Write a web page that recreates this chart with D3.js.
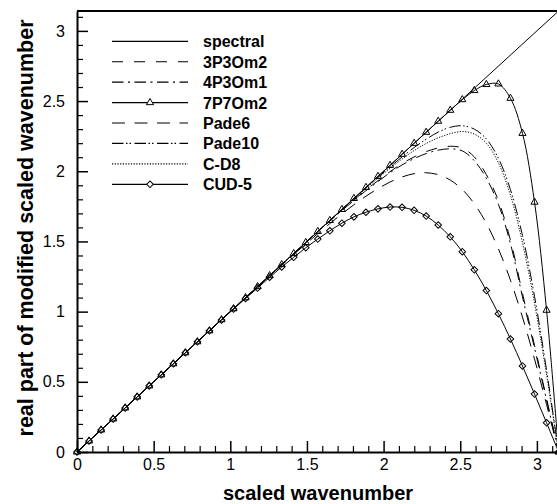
<!DOCTYPE html>
<html>
<head>
<meta charset="utf-8">
<script src="https://cdn.jsdelivr.net/npm/d3@7"></script>
<style>
  body { margin: 0; background: #fff; }
  svg { display: block; font-family: "Liberation Sans", Arial, Helvetica, sans-serif; }
</style>
</head>
<body>
<div id="chart"></div>
<script>
// sample positions (scaled wavenumber), every pi/40
const xs = [0, 0.0785, 0.1571, 0.2356, 0.3142, 0.3927, 0.4712, 0.5498, 0.6283, 0.7069,
  0.7854, 0.8639, 0.9425, 1.0210, 1.0996, 1.1781, 1.2566, 1.3352, 1.4137, 1.4923,
  1.5708, 1.6493, 1.7279, 1.8064, 1.8850, 1.9635, 2.0420, 2.1206, 2.1991, 2.2777,
  2.3562, 2.4347, 2.5133, 2.5918, 2.6704, 2.7489, 2.8274, 2.9060, 2.9845, 3.0631, 3.1416];

const spectralX = [0, 3.1416];
const spectralY = [0, 3.1416];

const p3p3om2 = [0, 0.0785, 0.1571, 0.2356, 0.3142, 0.3927, 0.4712, 0.5498, 0.6283, 0.7069,
  0.7854, 0.8639, 0.9425, 1.0210, 1.0996, 1.1781, 1.2566, 1.3352, 1.4137, 1.4922,
  1.5705, 1.648, 1.723, 1.796, 1.867, 1.933, 1.997, 2.055, 2.102, 2.140,
  2.166, 2.178, 2.166, 2.102, 1.976, 1.790, 1.510, 1.130, 0.760, 0.380, 0];

const p4p3om1 = [0, 0.0785, 0.1571, 0.2356, 0.3142, 0.3927, 0.4712, 0.5498, 0.6283, 0.7069,
  0.7854, 0.8639, 0.9425, 1.0210, 1.0996, 1.1781, 1.2566, 1.3352, 1.4137, 1.4922,
  1.5700, 1.645, 1.720, 1.792, 1.862, 1.927, 1.990, 2.045, 2.090, 2.126,
  2.150, 2.160, 2.145, 2.075, 1.950, 1.765, 1.485, 1.105, 0.740, 0.370, 0];

const p7p7om2 = [0, 0.0785, 0.1571, 0.2356, 0.3142, 0.3927, 0.4712, 0.5498, 0.6283, 0.7069,
  0.7854, 0.8639, 0.9425, 1.0210, 1.0996, 1.1781, 1.2566, 1.3352, 1.4137, 1.4923,
  1.5708, 1.6493, 1.7279, 1.8064, 1.8850, 1.9635, 2.0420, 2.1206, 2.1991, 2.2777,
  2.3562, 2.4345, 2.510, 2.575, 2.618, 2.622, 2.520, 2.270, 1.780, 1.010, 0];

const pade6 = [0, 0.0785, 0.1571, 0.2356, 0.3142, 0.3927, 0.4712, 0.5498, 0.6283, 0.7069,
  0.7854, 0.8638, 0.9421, 1.0195, 1.0984, 1.1760, 1.2539, 1.3308, 1.4069, 1.4820,
  1.5556, 1.6272, 1.6961, 1.7616, 1.8222, 1.8766, 1.9233, 1.9592, 1.9827, 1.9891,
  1.9758, 1.9373, 1.8702, 1.7685, 1.6288, 1.4476, 1.2244, 0.9608, 0.662, 0.338, 0];

const pade10 = [0, 0.0785, 0.1571, 0.2356, 0.3142, 0.3927, 0.4712, 0.5498, 0.6283, 0.7069,
  0.7854, 0.8639, 0.9425, 1.0210, 1.0996, 1.1781, 1.2566, 1.3352, 1.4137, 1.4923,
  1.5704, 1.649, 1.727, 1.804, 1.881, 1.957, 2.031, 2.102, 2.169, 2.228,
  2.279, 2.313, 2.324, 2.300, 2.230, 2.092, 1.869, 1.543, 1.109, 0.582, 0];

const cd8 = [0, 0.0785, 0.1571, 0.2356, 0.3142, 0.3927, 0.4712, 0.5498, 0.6283, 0.7069,
  0.7854, 0.8639, 0.9425, 1.0210, 1.0996, 1.1781, 1.2566, 1.3352, 1.4137, 1.4923,
  1.5704, 1.649, 1.727, 1.803, 1.878, 1.951, 2.021, 2.087, 2.147, 2.198,
  2.238, 2.268, 2.283, 2.265, 2.200, 2.060, 1.830, 1.490, 1.060, 0.550, 0];

const cud5 = [0, 0.0785, 0.1571, 0.2356, 0.3142, 0.3927, 0.4712, 0.5498, 0.6283, 0.7069,
  0.7852, 0.8634, 0.9410, 1.0180, 1.0940, 1.1680, 1.2450, 1.3180, 1.3870, 1.4550,
  1.5170, 1.5760, 1.630, 1.675, 1.708, 1.732, 1.745, 1.743, 1.722, 1.681,
  1.617, 1.533, 1.427, 1.298, 1.150, 0.985, 0.805, 0.613, 0.413, 0.208, 0];

const majorTicks = [0, 0.5, 1, 1.5, 2, 2.5, 3];
const tickLabels = ["0", "0.5", "1", "1.5", "2", "2.5", "3"];

const series = [
  { name: "spectral", xv: spectralX, yv: spectralY, dash: null, marker: null },
  { name: "3P3Om2", xv: xs, yv: p3p3om2, dash: "11,11", marker: null },
  { name: "4P3Om1", xv: xs, yv: p4p3om1, dash: "11.5,4.5,2,4.5", marker: null },
  { name: "7P7Om2", xv: xs, yv: p7p7om2, dash: null, marker: "triangle" },
  { name: "Pade6", xv: xs, yv: pade6, dash: "13,9.5", marker: null },
  { name: "Pade10", xv: xs, yv: pade10, dash: "11.5,2.5,1.5,2,1.5,3.5", marker: null },
  { name: "C-D8", xv: xs, yv: cd8, dash: "1.2,1.5", marker: null },
  { name: "CUD-5", xv: xs, yv: cud5, dash: null, marker: "diamond" }
];

const W = 557, H = 504;
const margin = { top: 11, left: 77 };
const plotW = 481.6, plotH = 441;

const svg = d3.select("#chart").append("svg")
  .attr("width", W)
  .attr("height", H);

const g = svg.append("g")
  .attr("transform", `translate(${margin.left},${margin.top})`);

const x = d3.scaleLinear().domain([0, Math.PI]).range([0, plotW]);
const y = d3.scaleLinear().domain([0, Math.PI]).range([plotH, 0]);

// minor ticks
const minor = d3.range(0, 3.15, 0.1).filter(v => Math.abs(v * 2 - Math.round(v * 2)) > 1e-6);

g.append("g")
  .attr("transform", `translate(0,${plotH})`)
  .call(d3.axisBottom(x).tickValues(minor).tickSizeInner(-6).tickSizeOuter(0).tickFormat(""))
  .call(a => a.select(".domain").remove())
  .selectAll("line").attr("stroke-width", 1.2);

g.append("g")
  .call(d3.axisLeft(y).tickValues(minor).tickSizeInner(-6).tickSizeOuter(0).tickFormat(""))
  .call(a => a.select(".domain").remove())
  .selectAll("line").attr("stroke-width", 1.2);

// major ticks + labels
const xAxis = g.append("g")
  .attr("transform", `translate(0,${plotH})`)
  .call(d3.axisBottom(x).tickValues(majorTicks).tickSizeInner(-11).tickSizeOuter(0)
    .tickPadding(7).tickFormat((d, i) => tickLabels[i]));
xAxis.selectAll("line").attr("stroke-width", 1.5);
xAxis.select(".domain").attr("stroke-width", 2);
xAxis.selectAll("text").attr("font-size", "16px").attr("fill", "#000")
  .style("font-family", "'Liberation Sans', Arial, sans-serif");

const yAxis = g.append("g")
  .call(d3.axisLeft(y).tickValues(majorTicks).tickSizeInner(-11).tickSizeOuter(0)
    .tickPadding(12).tickFormat((d, i) => tickLabels[i]));
yAxis.selectAll("line").attr("stroke-width", 1.5);
yAxis.select(".domain").attr("stroke-width", 2);
yAxis.selectAll("text").attr("font-size", "16px").attr("fill", "#000")
  .style("font-family", "'Liberation Sans', Arial, sans-serif");

// frame top / right
g.append("line")
  .attr("x1", 0).attr("x2", plotW)
  .attr("y1", 0).attr("y2", 0)
  .attr("stroke", "#000").attr("stroke-width", 2);
g.append("line")
  .attr("x1", plotW).attr("x2", plotW)
  .attr("y1", 0).attr("y2", plotH)
  .attr("stroke", "#000").attr("stroke-width", 2);

// curves
const line = d3.line()
  .x(d => x(d[0]))
  .y(d => y(d[1]))
  .curve(d3.curveCatmullRom.alpha(0.5));

const triangle = d3.symbol().type(d3.symbolTriangle).size(22);
const diamond = d3.symbol().type(d3.symbolSquare).size(22);

series.forEach(s => {
  const pts = s.xv.map((v, i) => [v, s.yv[i]]);
  g.append("path")
    .datum(pts)
    .attr("fill", "none")
    .attr("stroke", "#000")
    .attr("stroke-width", 1)
    .attr("stroke-dasharray", s.dash)
    .attr("d", line);

  if (s.marker) {
    g.selectAll(null)
      .data(pts)
      .enter()
      .append("path")
      .attr("d", s.marker === "triangle" ? triangle : diamond)
      .attr("transform", d => `translate(${x(d[0])},${y(d[1])})` + (s.marker === "diamond" ? " rotate(45)" : ""))
      .attr("fill", "none")
      .attr("stroke", "#000")
      .attr("stroke-width", 1);
  }
});

// legend
const legend = svg.append("g").attr("transform", "translate(112,41.3)");
series.forEach((s, i) => {
  const row = legend.append("g").attr("transform", `translate(0,${i * 20.43})`);
  row.append("line")
    .attr("x1", 0).attr("x2", 76)
    .attr("y1", 0).attr("y2", 0)
    .attr("stroke", "#000")
    .attr("stroke-width", 1.2)
    .attr("stroke-dasharray", s.dash);
  if (s.marker) {
    row.append("path")
      .attr("d", s.marker === "triangle" ? triangle : diamond)
      .attr("transform", "translate(38,0)" + (s.marker === "diamond" ? " rotate(45)" : ""))
      .attr("fill", "#fff")
      .attr("stroke", "#000")
      .attr("stroke-width", 1);
  }
  row.append("text")
    .attr("x", 91)
    .attr("y", 6)
    .attr("font-size", "16px")
    .attr("font-weight", "bold")
    .attr("fill", "#000")
    .text(s.name);
});

// axis titles
svg.append("text")
  .attr("x", margin.left + 241)
  .attr("y", 500)
  .attr("text-anchor", "middle")
  .attr("font-size", "20px")
  .attr("font-weight", "bold")
  .text("scaled wavenumber");

svg.append("text")
  .attr("transform", "translate(33,228) rotate(-90)")
  .attr("text-anchor", "middle")
  .attr("font-size", "21.5px")
  .attr("font-weight", "bold")
  .text("real part of modified scaled wavenumber");
</script>
</body>
</html>
